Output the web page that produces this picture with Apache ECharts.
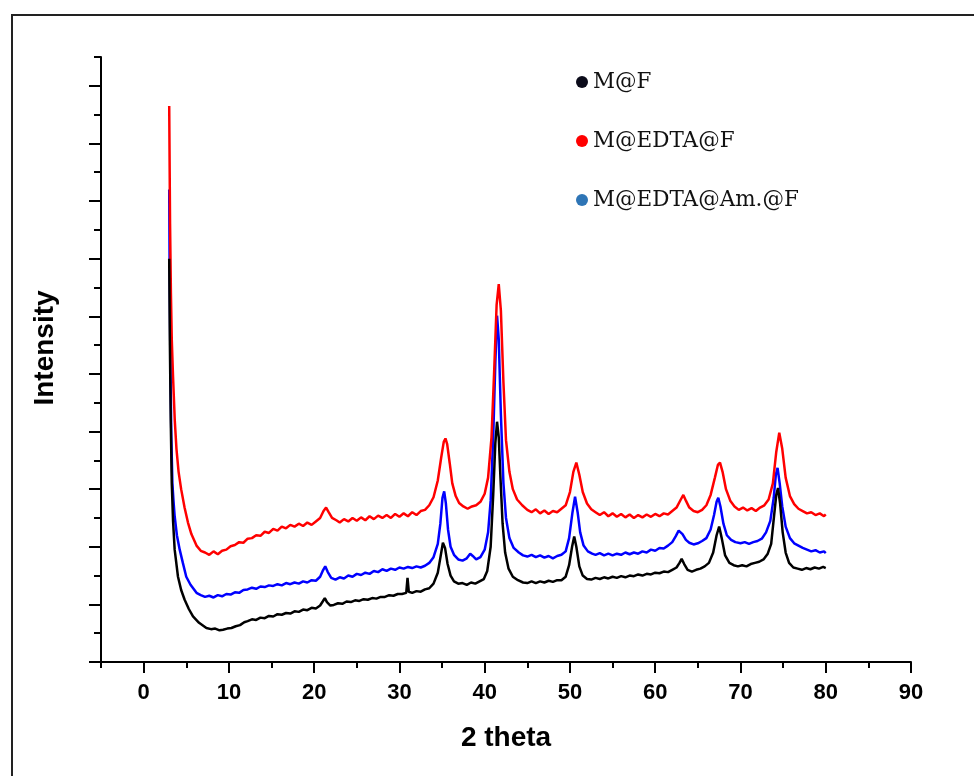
<!DOCTYPE html>
<html>
<head>
<meta charset="utf-8">
<title>XRD patterns</title>
<script src="https://cdn.jsdelivr.net/npm/echarts@6/dist/echarts.min.js"></script>
<style>
  html, body { margin: 0; padding: 0; background: #fff; overflow: hidden; }
  #wrap { position: relative; width: 974px; height: 776px; }
  #chart { position: absolute; left: 0; top: 0; width: 974px; height: 776px; }
  #frame { position: absolute; left: 11px; top: 14px; width: 1000px; height: 800px;
           border: 2px solid #222; box-sizing: border-box; pointer-events: none; }
</style>
</head>
<body>
<div id="wrap">
  <div id="chart"></div>
  <div id="frame"></div>
</div>
<script>
// Series names and colours
const seriesNames = ['M@F', 'M@EDTA@F', 'M@EDTA@Am.@F'];
const lineColors = ['#000000', '#ff0000', '#0000ff'];
const legendColors = ['#0b0b1a', '#ff0000', '#2e75b6'];

// Axis ticks (2 theta and intensity, arbitrary units)
const xMajorTicks = [0, 10, 20, 30, 40, 50, 60, 70, 80, 90];
const xMinorTicks = [-5, 5, 15, 25, 35, 45, 55, 65, 75, 85];
const yMajorTicks = [0, 1, 2, 3, 4, 5, 6, 7, 8, 9, 10];
const yMinorTicks = [0.5, 1.5, 2.5, 3.5, 4.5, 5.5, 6.5, 7.5, 8.5, 9.5, 10.5];

// M@F pattern: [2 theta, intensity]
const mfData = [
  [3.0, 7.0], [3.08, 5.5], [3.18, 4.2], [3.3, 3.1], [3.45, 2.45], [3.64, 1.95], [4.03, 1.48],
  [4.4, 1.25], [4.81, 1.08], [5.3, 0.92], [5.79, 0.79], [6.5, 0.68], [7.36, 0.59], [7.9, 0.57],
  [8.4, 0.58], [8.9, 0.55], [9.31, 0.56], [9.8, 0.58], [10.3, 0.59], [10.8, 0.62], [11.3, 0.64],
  [11.8, 0.69], [12.2, 0.71], [12.7, 0.74], [13.2, 0.73], [13.7, 0.77], [14.2, 0.76], [14.7, 0.80],
  [15.2, 0.79], [15.7, 0.83], [16.2, 0.82], [16.7, 0.85], [17.2, 0.84], [17.7, 0.88], [18.2, 0.87],
  [18.7, 0.91], [19.2, 0.90], [19.7, 0.94], [20.2, 0.93], [20.7, 0.98], [21.0, 1.05], [21.25, 1.11],
  [21.5, 1.04], [21.9, 0.98], [22.3, 0.99], [22.8, 1.02], [23.3, 1.01], [23.8, 1.05], [24.3, 1.04],
  [24.8, 1.07], [25.3, 1.06], [25.8, 1.09], [26.3, 1.08], [26.8, 1.11], [27.3, 1.10], [27.8, 1.13],
  [28.3, 1.13], [28.8, 1.16], [29.3, 1.15], [29.8, 1.18], [30.3, 1.18], [30.8, 1.20], [30.95, 1.46],
  [31.1, 1.22], [31.5, 1.20], [32.0, 1.23], [32.5, 1.22], [33.0, 1.26], [33.5, 1.28], [34.0, 1.36],
  [34.5, 1.55], [34.85, 1.85], [35.1, 2.07], [35.35, 1.98], [35.65, 1.70], [36.0, 1.50], [36.4, 1.40],
  [36.9, 1.36], [37.4, 1.37], [37.9, 1.34], [38.4, 1.38], [38.9, 1.36], [39.4, 1.40], [39.9, 1.44],
  [40.3, 1.58], [40.7, 2.00], [41.0, 2.90], [41.25, 3.80], [41.45, 4.17], [41.65, 3.90], [41.85, 3.20],
  [42.1, 2.40], [42.4, 1.90], [42.8, 1.62], [43.3, 1.48], [43.9, 1.42], [44.5, 1.38], [45.0, 1.37],
  [45.5, 1.40], [46.0, 1.37], [46.5, 1.40], [47.0, 1.38], [47.5, 1.41], [48.0, 1.39], [48.5, 1.42],
  [49.0, 1.42], [49.5, 1.48], [49.9, 1.68], [50.25, 2.00], [50.5, 2.18], [50.75, 2.00], [51.1, 1.66],
  [51.5, 1.50], [52.0, 1.44], [52.5, 1.43], [53.0, 1.46], [53.5, 1.44], [54.0, 1.47], [54.5, 1.45],
  [55.0, 1.48], [55.5, 1.46], [56.0, 1.49], [56.5, 1.47], [57.0, 1.50], [57.5, 1.49], [58.0, 1.52],
  [58.5, 1.50], [59.0, 1.53], [59.5, 1.52], [60.0, 1.55], [60.5, 1.54], [61.0, 1.57], [61.5, 1.56],
  [62.0, 1.60], [62.5, 1.64], [62.85, 1.72], [63.1, 1.79], [63.4, 1.70], [63.8, 1.60], [64.3, 1.57],
  [64.8, 1.60], [65.3, 1.62], [65.8, 1.66], [66.3, 1.72], [66.8, 1.90], [67.2, 2.20], [67.5, 2.35],
  [67.8, 2.15], [68.2, 1.85], [68.7, 1.72], [69.2, 1.68], [69.7, 1.66], [70.2, 1.68], [70.7, 1.66],
  [71.2, 1.70], [71.7, 1.72], [72.2, 1.74], [72.7, 1.78], [73.2, 1.88], [73.6, 2.05], [73.95, 2.55],
  [74.2, 2.90], [74.4, 3.02], [74.65, 2.75], [74.95, 2.25], [75.3, 1.90], [75.7, 1.72], [76.2, 1.64],
  [76.7, 1.62], [77.2, 1.60], [77.7, 1.63], [78.2, 1.61], [78.7, 1.64], [79.2, 1.62], [79.7, 1.65],
  [80.0, 1.63]
];

// M@EDTA@F pattern
const mEdtaData = [
  [3.0, 9.65], [3.1, 7.6], [3.2, 6.4], [3.3, 5.6], [3.45, 4.95], [3.65, 4.2], [3.85, 3.7], [4.1, 3.3],
  [4.4, 3.0], [4.8, 2.68], [5.2, 2.42], [5.6, 2.22], [6.2, 2.02], [6.7, 1.93], [7.2, 1.90], [7.7, 1.86],
  [8.2, 1.92], [8.7, 1.87], [9.2, 1.93], [9.7, 1.95], [10.2, 2.01], [10.7, 2.03], [11.2, 2.08],
  [11.7, 2.07], [12.2, 2.14], [12.7, 2.15], [13.2, 2.20], [13.7, 2.19], [14.2, 2.26], [14.7, 2.24],
  [15.2, 2.31], [15.7, 2.28], [16.2, 2.35], [16.7, 2.32], [17.2, 2.38], [17.7, 2.35], [18.2, 2.40],
  [18.7, 2.36], [19.2, 2.42], [19.7, 2.38], [20.2, 2.44], [20.7, 2.50], [21.1, 2.62], [21.4, 2.68],
  [21.7, 2.60], [22.1, 2.50], [22.6, 2.46], [23.0, 2.42], [23.5, 2.48], [24.0, 2.44], [24.5, 2.50],
  [25.0, 2.45], [25.5, 2.51], [26.0, 2.46], [26.5, 2.53], [27.0, 2.48], [27.5, 2.54], [28.0, 2.50],
  [28.5, 2.55], [29.0, 2.50], [29.5, 2.57], [30.0, 2.52], [30.5, 2.58], [31.0, 2.53], [31.5, 2.60],
  [32.0, 2.55], [32.5, 2.62], [33.0, 2.64], [33.5, 2.72], [34.0, 2.86], [34.5, 3.15], [34.9, 3.55],
  [35.2, 3.82], [35.4, 3.88], [35.6, 3.78], [35.9, 3.45], [36.2, 3.10], [36.6, 2.88], [37.0, 2.76],
  [37.5, 2.70], [38.0, 2.66], [38.5, 2.70], [39.0, 2.72], [39.5, 2.78], [40.0, 2.92], [40.4, 3.20],
  [40.8, 3.90], [41.1, 5.00], [41.4, 6.20], [41.65, 6.56], [41.9, 6.10], [42.2, 4.85], [42.5, 3.85],
  [42.9, 3.30], [43.3, 3.00], [43.8, 2.82], [44.4, 2.72], [45.0, 2.64], [45.5, 2.60], [46.0, 2.65],
  [46.5, 2.58], [47.0, 2.63], [47.5, 2.57], [48.0, 2.62], [48.5, 2.60], [49.0, 2.66], [49.5, 2.72],
  [50.0, 2.95], [50.4, 3.30], [50.75, 3.46], [51.1, 3.25], [51.5, 2.95], [52.0, 2.75], [52.5, 2.65],
  [53.0, 2.60], [53.5, 2.55], [54.0, 2.60], [54.5, 2.53], [55.0, 2.58], [55.5, 2.52], [56.0, 2.57],
  [56.5, 2.51], [57.0, 2.56], [57.5, 2.50], [58.0, 2.55], [58.5, 2.51], [59.0, 2.56], [59.5, 2.52],
  [60.0, 2.57], [60.5, 2.53], [61.0, 2.58], [61.5, 2.56], [62.0, 2.62], [62.5, 2.68], [63.0, 2.82],
  [63.3, 2.90], [63.6, 2.80], [64.0, 2.68], [64.5, 2.62], [65.0, 2.60], [65.5, 2.64], [66.0, 2.72],
  [66.5, 2.90], [67.0, 3.20], [67.35, 3.42], [67.6, 3.46], [67.9, 3.30], [68.3, 3.00], [68.8, 2.80],
  [69.3, 2.70], [69.8, 2.64], [70.3, 2.68], [70.8, 2.63], [71.3, 2.67], [71.8, 2.62], [72.3, 2.68],
  [72.8, 2.72], [73.3, 2.82], [73.8, 3.10], [74.2, 3.65], [74.55, 3.98], [74.9, 3.70], [75.3, 3.20],
  [75.8, 2.88], [76.3, 2.74], [76.8, 2.66], [77.3, 2.62], [77.8, 2.58], [78.3, 2.60], [78.8, 2.55],
  [79.3, 2.58], [79.8, 2.53], [80.0, 2.56]
];

// M@EDTA@Am.@F pattern
const mEdtaAmData = [
  [3.0, 8.2], [3.05, 6.8], [3.15, 5.0], [3.25, 3.9], [3.37, 3.11], [3.5, 2.8], [3.64, 2.53], [3.9, 2.2],
  [4.23, 1.95], [4.6, 1.72], [5.0, 1.48], [5.5, 1.34], [6.2, 1.20], [6.7, 1.16], [7.2, 1.13], [7.7, 1.15],
  [8.2, 1.12], [8.7, 1.16], [9.2, 1.14], [9.7, 1.18], [10.2, 1.17], [10.7, 1.21], [11.2, 1.20],
  [11.7, 1.25], [12.2, 1.26], [12.7, 1.29], [13.2, 1.27], [13.7, 1.31], [14.2, 1.30], [14.7, 1.33],
  [15.2, 1.32], [15.7, 1.35], [16.2, 1.33], [16.7, 1.37], [17.2, 1.35], [17.7, 1.38], [18.2, 1.36],
  [18.7, 1.40], [19.2, 1.38], [19.7, 1.42], [20.2, 1.41], [20.7, 1.48], [21.0, 1.58], [21.3, 1.66],
  [21.6, 1.56], [22.0, 1.46], [22.5, 1.43], [23.0, 1.47], [23.5, 1.45], [24.0, 1.50], [24.5, 1.48],
  [25.0, 1.53], [25.5, 1.51], [26.0, 1.55], [26.5, 1.53], [27.0, 1.58], [27.5, 1.56], [28.0, 1.61],
  [28.5, 1.58], [29.0, 1.62], [29.5, 1.60], [30.0, 1.64], [30.5, 1.62], [31.0, 1.65], [31.5, 1.63],
  [32.0, 1.66], [32.5, 1.64], [33.0, 1.67], [33.5, 1.72], [34.0, 1.82], [34.5, 2.05], [34.8, 2.40],
  [35.05, 2.85], [35.25, 2.96], [35.45, 2.75], [35.7, 2.30], [36.0, 2.00], [36.4, 1.86], [36.9, 1.78],
  [37.4, 1.76], [37.9, 1.80], [38.3, 1.88], [38.6, 1.84], [39.0, 1.78], [39.5, 1.82], [40.0, 1.95],
  [40.4, 2.25], [40.7, 2.80], [41.0, 3.90], [41.25, 5.20], [41.45, 6.01], [41.65, 5.60], [41.9, 4.30],
  [42.2, 3.10], [42.5, 2.50], [42.9, 2.15], [43.4, 1.98], [44.0, 1.90], [44.5, 1.85], [45.0, 1.83],
  [45.5, 1.86], [46.0, 1.82], [46.5, 1.85], [47.0, 1.81], [47.5, 1.84], [48.0, 1.80], [48.5, 1.84],
  [49.0, 1.86], [49.5, 1.92], [49.9, 2.15], [50.3, 2.60], [50.6, 2.87], [50.9, 2.60], [51.2, 2.25],
  [51.6, 2.02], [52.1, 1.92], [52.6, 1.88], [53.0, 1.86], [53.5, 1.89], [54.0, 1.85], [54.5, 1.88],
  [55.0, 1.85], [55.5, 1.88], [56.0, 1.86], [56.5, 1.90], [57.0, 1.87], [57.5, 1.90], [58.0, 1.88],
  [58.5, 1.92], [59.0, 1.90], [59.5, 1.95], [60.0, 1.93], [60.5, 1.98], [61.0, 1.97], [61.5, 2.02],
  [62.0, 2.08], [62.4, 2.18], [62.75, 2.28], [62.95, 2.30], [63.2, 2.22], [63.6, 2.12], [64.0, 2.07],
  [64.5, 2.04], [65.0, 2.06], [65.5, 2.10], [66.0, 2.15], [66.5, 2.30], [66.9, 2.55], [67.2, 2.78],
  [67.4, 2.85], [67.65, 2.70], [68.0, 2.40], [68.4, 2.20], [68.9, 2.12], [69.4, 2.08], [70.0, 2.06],
  [70.5, 2.08], [71.0, 2.05], [71.5, 2.08], [72.0, 2.10], [72.5, 2.14], [73.0, 2.25], [73.5, 2.45],
  [73.9, 2.85], [74.15, 3.25], [74.35, 3.37], [74.6, 3.10], [74.9, 2.70], [75.3, 2.35], [75.8, 2.15],
  [76.3, 2.06], [76.8, 2.02], [77.3, 1.98], [77.8, 1.95], [78.3, 1.92], [78.8, 1.94], [79.3, 1.90],
  [79.8, 1.92], [80.0, 1.89]
];

const patterns = [mfData, mEdtaData, mEdtaAmData];

const axisBlack = { color: '#000', width: 2 };
const sansBold = { fontFamily: '"Liberation Sans", Arial, sans-serif', fontWeight: 'bold', color: '#000' };

const chart = echarts.init(document.getElementById('chart'), null, { renderer: 'canvas' });

const option = {
  backgroundColor: 'transparent',
  animation: false,
  grid: { left: 101, right: 63, top: 57, bottom: 114, containLabel: false },
  legend: {
    orient: 'vertical',
    left: 571,
    top: 65,
    icon: 'circle',
    itemWidth: 12,
    itemHeight: 12,
    itemGap: 39,
    textStyle: { fontFamily: '"DejaVu Serif", "Liberation Serif", serif', fontSize: 21.5, color: '#111', lineHeight: 21 },
    data: seriesNames.map((n, i) => ({ name: n, itemStyle: { color: legendColors[i] } }))
  },
  xAxis: [
    {
      type: 'value', min: -5, max: 90, position: 'bottom',
      name: '2 theta', nameLocation: 'middle', nameGap: 62,
      nameTextStyle: Object.assign({ fontSize: 28 }, sansBold),
      axisLine: { show: true, onZero: false, lineStyle: axisBlack },
      axisTick: { show: true, length: 11, lineStyle: axisBlack, customValues: xMajorTicks },
      axisLabel: Object.assign({ fontSize: 22, margin: 20, customValues: xMajorTicks }, sansBold),
      splitLine: { show: false }
    },
    {
      type: 'value', min: -5, max: 90, position: 'bottom',
      axisLine: { show: false, onZero: false },
      axisTick: { show: true, length: 6, lineStyle: axisBlack, customValues: xMinorTicks },
      axisLabel: { show: false },
      splitLine: { show: false }
    }
  ],
  yAxis: [
    {
      type: 'value', min: 0, max: 10.5, position: 'left',
      name: 'Intensity', nameLocation: 'middle', nameGap: 42, nameRotate: 90,
      nameTextStyle: Object.assign({ fontSize: 28, padding: [0, 0, 0, 23] }, sansBold),
      axisLine: { show: true, onZero: false, lineStyle: axisBlack },
      axisTick: { show: true, length: 12, lineStyle: axisBlack, customValues: yMajorTicks },
      axisLabel: { show: false },
      splitLine: { show: false }
    },
    {
      type: 'value', min: 0, max: 10.5, position: 'left',
      axisLine: { show: false, onZero: false },
      axisTick: { show: true, length: 7, lineStyle: axisBlack, customValues: yMinorTicks },
      axisLabel: { show: false },
      splitLine: { show: false }
    }
  ],
  series: seriesNames.map((n, i) => ({
    name: n,
    type: 'line',
    xAxisIndex: 0,
    yAxisIndex: 0,
    data: patterns[i],
    showSymbol: false,
    symbol: 'none',
    lineStyle: { color: lineColors[i], width: 2.5 },
    itemStyle: { color: lineColors[i] },
    z: 3 - i
  }))
};

// legend row spacing
option.legend.top = 66;
option.legend.itemGap = 37;

chart.setOption(option);
</script>
</body>
</html>
